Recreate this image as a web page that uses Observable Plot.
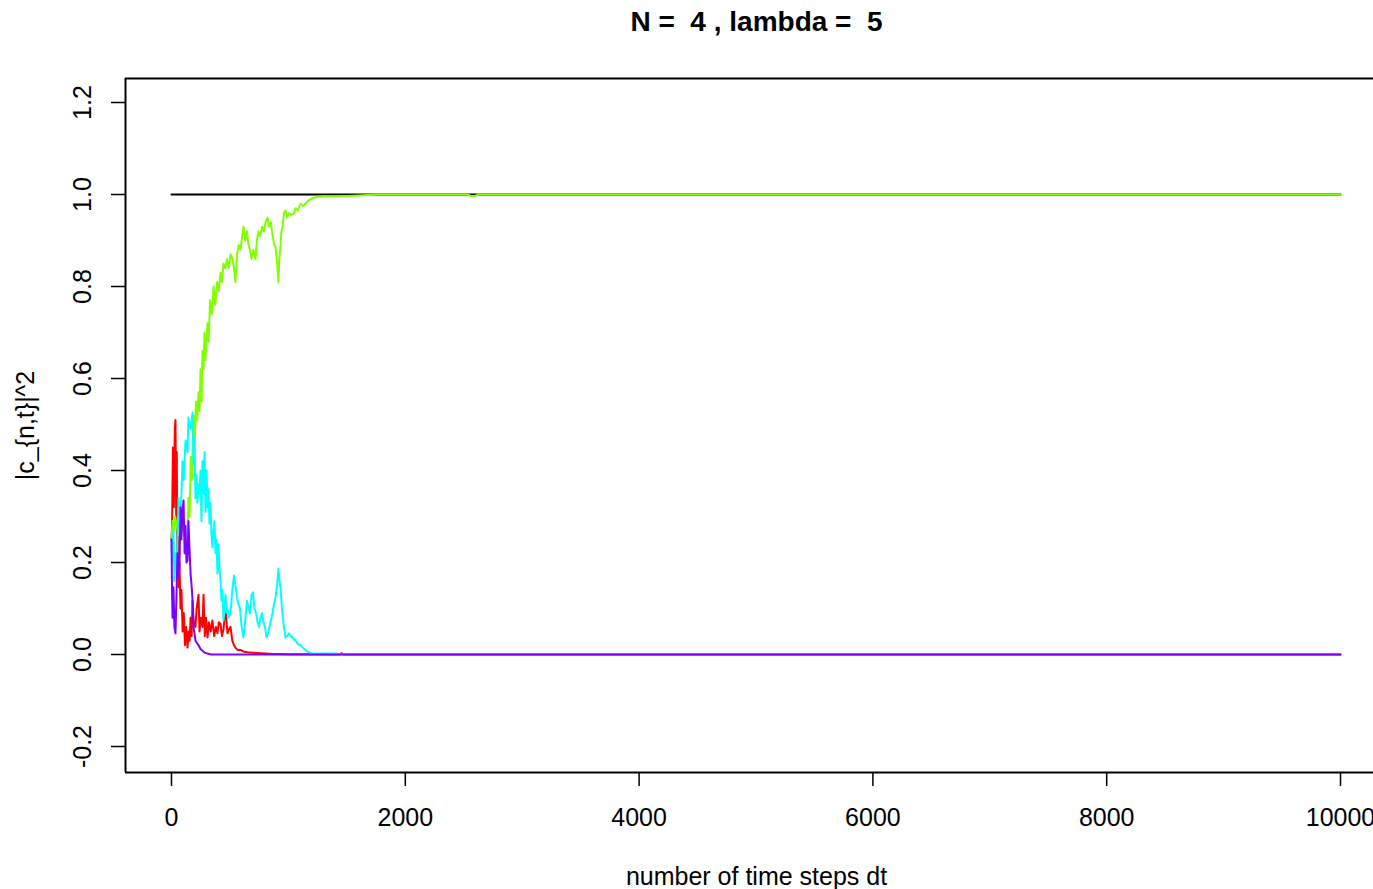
<!DOCTYPE html>
<html><head><meta charset="utf-8">
<script src="https://cdn.jsdelivr.net/npm/d3@7"></script>
<script src="https://cdn.jsdelivr.net/npm/@observablehq/plot@0.6"></script>
<style>
html,body{margin:0;padding:0;background:#fff;overflow:hidden;}
svg text{white-space:pre;}
</style></head><body><div id="chart"></div>
<script>
const title = "N =  4 , lambda =  5";
const xLabel = "number of time steps dt";
const yLabel = "|c_{n,t}|^2";
const xTicks = [0, 2000, 4000, 6000, 8000, 10000];
const xTickLabels = ["0", "2000", "4000", "6000", "8000", "10000"];
const yTicks = [-0.2, 0, 0.2, 0.4, 0.6, 0.8, 1.0, 1.2];
const yTickLabels = ["-0.2", "0.0", "0.2", "0.4", "0.6", "0.8", "1.0", "1.2"];
const seriesNames = ["sum", "n1", "n2", "n3", "n4"];
const seriesColors = ["#000000", "#FF0000", "#80FF00", "#00FFFF", "#8000FF"];

const sumT = [0, 10000];
const sumV = [1, 1];

const redT = [0, 5, 12, 20, 28, 34, 40, 45, 50, 55, 60, 68, 77, 85, 95, 105, 115, 125, 137, 145, 155, 163, 172, 180, 190, 205, 215, 231, 240, 250, 265, 274, 285, 295, 308, 320, 335, 350, 365, 380, 393, 405, 419, 432, 445, 462, 479, 492, 505, 520, 535, 547, 565, 590, 620, 650, 700, 761, 810, 864, 900, 1000, 1440, 1455, 1470, 1500, 10000];
const redV = [0.25, 0.28, 0.45, 0.32, 0.49, 0.51, 0.30, 0.44, 0.22, 0.34, 0.146, 0.20, 0.10, 0.14, 0.05, 0.09, 0.02, 0.06, 0.015, 0.05, 0.03, 0.08, 0.04, 0.117, 0.07, 0.06, 0.10, 0.13, 0.05, 0.08, 0.06, 0.13, 0.04, 0.08, 0.037, 0.07, 0.05, 0.074, 0.04, 0.06, 0.046, 0.07, 0.067, 0.04, 0.055, 0.10, 0.046, 0.055, 0.06, 0.03, 0.02, 0.015, 0.01, 0.01, 0.006, 0.005, 0.004, 0.003, 0.002, 0.001, 0.001, 0.0005, 0, 0.003, 0, 0, 0];

const greenT = [0, 10, 20, 30, 45, 60, 80, 100, 120, 137, 145, 155, 165, 175, 188, 200, 210, 220, 231, 240, 248, 258, 265, 274, 282, 290, 300, 308, 318, 330, 345, 360, 375, 390, 405, 419, 432, 445, 460, 475, 490, 505, 521, 535, 547, 560, 575, 590, 605, 616, 630, 645, 659, 672, 685, 700, 719, 730, 744, 760, 775, 790, 805, 821, 835, 850, 865, 880, 890, 900, 910, 915, 920, 930, 940, 950, 962, 975, 990, 1005, 1020, 1044, 1060, 1080, 1104, 1130, 1163, 1190, 1215, 1250, 1300, 1386, 1500, 1600, 1762, 2540, 2560, 2600, 2620, 10000];
const greenV = [0.25, 0.29, 0.27, 0.30, 0.28, 0.26, 0.29, 0.27, 0.25, 0.24, 0.34, 0.30, 0.43, 0.38, 0.52, 0.47, 0.55, 0.51, 0.57, 0.53, 0.62, 0.55, 0.66, 0.62, 0.70, 0.64, 0.69, 0.72, 0.68, 0.77, 0.74, 0.80, 0.76, 0.81, 0.79, 0.83, 0.81, 0.85, 0.84, 0.86, 0.84, 0.87, 0.86, 0.84, 0.81, 0.87, 0.89, 0.88, 0.91, 0.93, 0.90, 0.92, 0.89, 0.88, 0.86, 0.88, 0.86, 0.90, 0.92, 0.91, 0.93, 0.92, 0.94, 0.95, 0.93, 0.94, 0.91, 0.89, 0.885, 0.86, 0.83, 0.81, 0.85, 0.88, 0.92, 0.93, 0.96, 0.965, 0.95, 0.96, 0.955, 0.958, 0.97, 0.965, 0.98, 0.975, 0.985, 0.99, 0.993, 0.995, 0.996, 0.996, 0.997, 0.998, 1.0, 1.0, 0.997, 0.997, 1.0, 1.0];

const cyanT = [0, 9, 17, 25, 34, 45, 60, 77, 94, 105, 120, 137, 145, 163, 180, 188, 197, 205, 214, 222, 231, 240, 248, 256, 265, 274, 283, 291, 300, 308, 316, 325, 333, 342, 350, 359, 368, 376, 385, 393, 402, 410, 419, 428, 436, 445, 454, 462, 471, 479, 488, 505, 520, 535, 547, 560, 573, 586, 600, 616, 633, 646, 659, 672, 685, 697, 710, 723, 736, 749, 761, 774, 787, 800, 813, 830, 847, 864, 877, 890, 903, 915, 924, 932, 945, 958, 975, 990, 1005, 1018, 1035, 1061, 1080, 1104, 1125, 1146, 1170, 1189, 1250, 1386, 1500, 10000];
const cyanV = [0.25, 0.20, 0.27, 0.16, 0.22, 0.18, 0.34, 0.29, 0.42, 0.38, 0.465, 0.44, 0.515, 0.49, 0.526, 0.415, 0.47, 0.34, 0.39, 0.33, 0.37, 0.36, 0.40, 0.29, 0.42, 0.35, 0.44, 0.31, 0.40, 0.32, 0.36, 0.285, 0.33, 0.26, 0.233, 0.27, 0.29, 0.22, 0.25, 0.176, 0.24, 0.19, 0.16, 0.117, 0.14, 0.074, 0.10, 0.13, 0.09, 0.10, 0.08, 0.09, 0.14, 0.172, 0.15, 0.124, 0.11, 0.10, 0.06, 0.037, 0.08, 0.117, 0.10, 0.09, 0.13, 0.135, 0.10, 0.09, 0.07, 0.06, 0.08, 0.09, 0.07, 0.06, 0.037, 0.05, 0.07, 0.09, 0.11, 0.124, 0.15, 0.187, 0.16, 0.146, 0.10, 0.067, 0.037, 0.04, 0.046, 0.04, 0.037, 0.03, 0.023, 0.02, 0.015, 0.01, 0.005, 0.003, 0.002, 0.002, 0, 0];

const purpleT = [0, 5, 9, 13, 17, 25, 34, 42, 51, 60, 68, 77, 85, 94, 103, 112, 120, 128, 137, 145, 154, 163, 172, 180, 188, 197, 205, 218, 231, 248, 265, 285, 308, 340, 10000];
const purpleV = [0.25, 0.13, 0.08, 0.12, 0.146, 0.06, 0.046, 0.12, 0.22, 0.17, 0.19, 0.32, 0.25, 0.31, 0.335, 0.22, 0.28, 0.20, 0.204, 0.29, 0.23, 0.176, 0.15, 0.117, 0.06, 0.045, 0.03, 0.025, 0.02, 0.012, 0.008, 0.004, 0.002, 0, 0];

const seriesT = [sumT, redT, greenT, cyanT, purpleT];
const seriesV = [sumV, redV, greenV, cyanV, purpleV];

const xDomain = [-393.5, 10282.3];
const yDomain = [-0.2565, 1.2522];
const font = "'Liberation Sans', Arial, sans-serif";

const lineMarks = seriesNames.map((name, k) => {
  const rows = seriesT[k].map((t, i) => ({t, v: seriesV[k][i], s: name}));
  return Plot.line(rows, {x: "t", y: "v", stroke: seriesColors[k], strokeWidth: 2});
});

const chart = Plot.plot({
  width: 1373,
  height: 889,
  marginLeft: 125,
  marginRight: 0,
  marginTop: 78,
  marginBottom: 117,
  style: {fontFamily: font, background: "#fff", color: "#000"},
  x: {domain: xDomain, label: null},
  y: {domain: yDomain, label: null},
  marks: [
    ...lineMarks,
    Plot.ruleX([xDomain[0]], {stroke: "#000", strokeWidth: 2}),
    Plot.ruleY([yDomain[0], yDomain[1]], {stroke: "#000", strokeWidth: 2}),
    Plot.axisX({ticks: xTicks, tickSize: 14, tickPadding: 22, fontSize: 25, strokeWidth: 1.5, label: null,
      tickFormat: d => xTickLabels[xTicks.indexOf(d)]}),
    Plot.axisY({ticks: yTicks, tickSize: 14, strokeWidth: 1.5, label: null, tickFormat: () => ""}),
    Plot.text(yTicks, {y: d => d, frameAnchor: "left", dx: -43, rotate: -90, fontSize: 25,
      text: (d, i) => yTickLabels[i], textAnchor: "middle", lineAnchor: "middle", fill: "#000"}),
    Plot.text([yLabel], {frameAnchor: "left", dx: -100, rotate: -90, fontSize: 25, fill: "#000",
      textAnchor: "middle", lineAnchor: "middle"}),
    Plot.text([title], {frameAnchor: "top", dx: 7, dy: -56, fontSize: 28, fontWeight: "bold", fill: "#000",
      textAnchor: "middle", lineAnchor: "middle"}),
    Plot.text([xLabel], {frameAnchor: "bottom", dx: 7, dy: 104, fontSize: 25, fill: "#000",
      textAnchor: "middle", lineAnchor: "middle"})
  ]
});
document.getElementById("chart").appendChild(chart);
</script></body></html>
